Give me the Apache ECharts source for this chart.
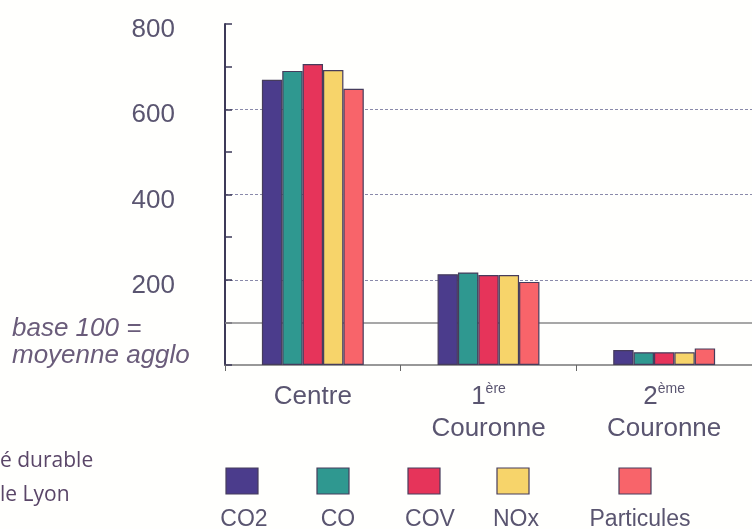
<!DOCTYPE html>
<html>
<head>
<meta charset="utf-8">
<script src="https://cdn.jsdelivr.net/npm/echarts@6/dist/echarts.min.js"></script>
<style>
html,body{margin:0;padding:0;background:#fffffd;}
#chart{width:752px;height:529px;}
</style>
</head>
<body>
<div id="chart"></div>
<script>
var categories = ['Centre', '1ère\nCouronne', '2ème\nCouronne'];
var seriesNames = ['CO2', 'CO', 'COV', 'NOx', 'Particules'];
var seriesColors = ['#4b3c8c', '#2f9890', '#e6345a', '#f7d46a', '#f8646a'];
var valuesCO2 = [669, 213, 35];
var valuesCO = [690, 217, 30];
var valuesCOV = [706, 211, 30];
var valuesNOx = [692, 211, 30];
var valuesParticules = [648, 195, 39];
var yTicks = [0, 200, 400, 600, 800];
var baseLine = 100;
var allValues = [valuesCO2, valuesCO, valuesCOV, valuesNOx, valuesParticules];

var legendX = [242, 333, 424, 513, 635];
var legendTextX = [244, 338, 430, 516, 640];

var chart = echarts.init(document.getElementById('chart'));
var FONT = 'Liberation Sans, Arial, sans-serif';
var TXT = '#5a5570';

var series = seriesNames.map(function (name, i) {
  var s = {
    name: name,
    type: 'bar',
    data: allValues[i],
    barGap: '0%',
    barCategoryGap: '42%',
    itemStyle: { color: seriesColors[i], borderColor: '#463c5c', borderWidth: 1.2 },
    z: 3
  };
  if (i === 0) {
    s.markLine = {
      silent: true,
      symbol: 'none',
      label: { show: false },
      lineStyle: { color: '#8a8a8a', width: 1.5, type: 'solid' },
      data: [{ yAxis: baseLine }],
      z: 1
    };
  }
  return s;
});

var graphics = [
  { type: 'text', left: 12, top: 316, style: { text: 'base 100 =', font: 'italic 26px ' + FONT, fill: '#6a5c7a' } },
  { type: 'text', left: 12, top: 343, style: { text: 'moyenne agglo', font: 'italic 26px ' + FONT, fill: '#6a5c7a' } },
  { type: 'text', left: 0, top: 451, style: { text: 'é durable', font: '21px "Open Sans", sans-serif', fill: '#5a4668' } },
  { type: 'text', left: 0, top: 485, style: { text: 'le Lyon', font: '21px "Open Sans", sans-serif', fill: '#5a4668' } }
];
seriesNames.forEach(function (name, i) {
  graphics.push({
    type: 'rect',
    shape: { x: legendX[i] - 16, y: 468, width: 32, height: 26 },
    style: { fill: seriesColors[i], stroke: '#463c5c', lineWidth: 1.2 }
  });
  graphics.push({
    type: 'text',
    x: legendTextX[i], y: 520,
    style: { text: name, font: '23px ' + FONT, fill: TXT, align: 'center', verticalAlign: 'middle' }
  });
});

var option = {
  backgroundColor: '#fffffd',
  animation: false,
  grid: { left: 225, right: -5, top: 24, bottom: 164, containLabel: false },
  xAxis: {
    type: 'category',
    data: categories,
    axisLine: { show: true, lineStyle: { color: '#777777', width: 1.5 } },
    axisTick: { show: true, length: 6, lineStyle: { color: '#666666' } },
    axisLabel: {
      margin: 16,
      interval: 0,
      color: TXT,
      fontFamily: FONT,
      fontSize: 26,
      lineHeight: 32,
      formatter: function (v) {
        var m = v.match(/^(\d)(ère|ème)\n(.*)$/);
        if (m) {
          return '{n|' + m[1] + '}{sup|' + m[2] + '}\n{t|' + m[3] + '}';
        }
        return '{t|' + v + '}';
      },
      rich: {
        n: { fontSize: 26, fontFamily: FONT, color: TXT, lineHeight: 32 },
        sup: { fontSize: 14, fontFamily: FONT, color: TXT, padding: [0, 0, 16, 0] },
        t: { fontSize: 26, fontFamily: FONT, color: TXT, lineHeight: 32 }
      }
    },
    splitLine: { show: false }
  },
  yAxis: {
    type: 'value',
    min: yTicks[0],
    max: yTicks[yTicks.length - 1],
    interval: 200,
    axisLine: { show: true, lineStyle: { color: '#3d3a58', width: 2 } },
    axisTick: { show: true, inside: true, length: 7, lineStyle: { color: '#3d3a58', width: 1.5 } },
    minorTick: { show: true, splitNumber: 2, length: 7, lineStyle: { color: '#3d3a58', width: 1.5 } },
    axisLabel: {
      margin: 50, color: TXT, fontFamily: FONT, fontSize: 26,
      formatter: function (v) { return v === 0 ? '' : '{v|' + v + '}'; },
      rich: { v: { fontSize: 26, fontFamily: FONT, color: TXT, padding: [12, 0, 0, 0] } }
    },
    splitLine: {
      show: true,
      lineStyle: { color: ['rgba(0,0,0,0)', '#8a8aaa', '#8a8aaa', '#8a8aaa', 'rgba(0,0,0,0)'], type: [3, 2], width: 1 }
    }
  },
  legend: { show: false },
  series: series,
  graphic: graphics
};
chart.setOption(option);
</script>
</body>
</html>
